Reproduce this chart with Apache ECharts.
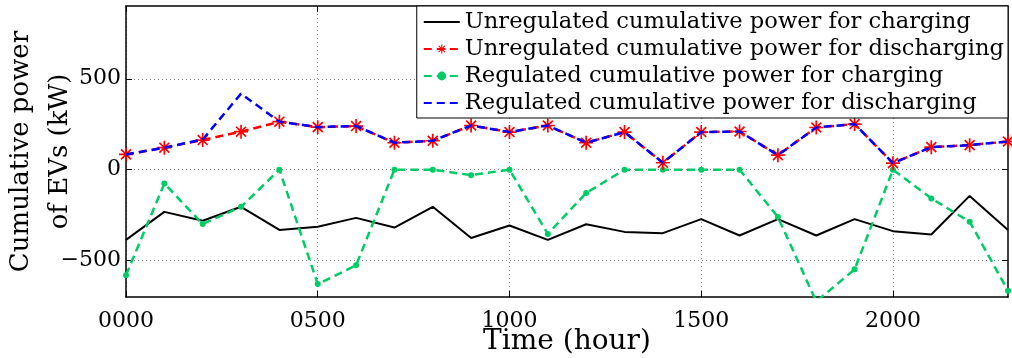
<!DOCTYPE html>
<html><head><meta charset="utf-8">
<script src="https://cdn.jsdelivr.net/npm/echarts@6/dist/echarts.min.js"></script>
<style>html,body{margin:0;padding:0;background:#fff}#c{width:1012px;height:358px}</style>
</head><body><div id="c"></div>
<script>
// Time of day (hours, 0000..2300)
const hours = [0,100,200,300,400,500,600,700,800,900,1000,1100,1200,1300,1400,1500,1600,1700,1800,1900,2000,2100,2200,2300];
// Cumulative power of EVs (kW)
const unregCharge    = [-386,-232,-281,-204,-331,-314,-265,-318,-204,-376,-307,-386,-300,-342,-349,-272,-362,-272,-362,-272,-338,-356,-144,-331];
const unregDischarge = [84,121,163,209,264,234,240,148,159,243,207,243,148,207,38,207,210,80,232,251,36,124,135,155];
const regCharge      = [-580,-76,-299,-204,0,-629,-526,0,0,-30,0,-353,-128,0,0,0,0,-260,-725,-548,0,-158,-286,-666];
const regDischarge   = [84,121,166,418,264,234,240,148,159,243,207,243,148,207,38,207,210,80,232,251,36,124,135,155];
const seriesNames = [
  'Unregulated cumulative power for charging',
  'Unregulated cumulative power for discharging',
  'Regulated cumulative power for charging',
  'Regulated cumulative power for discharging'
];
const xTicks = [0,500,1000,1500,2000];
const yTicks = [-500,0,500];

const FONT = 'DejaVu Serif';
const ASTERISK = 'path://M0 8.8L20 8.8L20 11.2L0 11.2ZM8.8 0L11.2 0L11.2 20L8.8 20ZM2.08 3.78L3.78 2.08L17.92 16.22L16.22 17.92ZM16.22 2.08L17.92 3.78L3.78 17.92L2.08 16.22Z';
const pair = arr => hours.map((h, i) => [h, arr[i]]);
const grid = {color:'#888', type:[1,3], width:1};

const chart = echarts.init(document.getElementById('c'), null, {renderer:'canvas'});
chart.setOption({
  animation: false,
  backgroundColor: '#fff',
  grid: {left:126, right:4, top:6, bottom:61, containLabel:false, outerBoundsMode:'none'},
  xAxis: [{
    type:'value', min:0, max:2300, position:'bottom',
    axisLine:{show:true, onZero:false, lineStyle:{color:'#000', width:1.5}},
    axisTick:{show:true, inside:true, length:6, customValues:xTicks, lineStyle:{color:'#000'}},
    axisLabel:{customValues:xTicks, formatter:v => String(v).padStart(4,'0'), color:'#000', fontFamily:FONT, fontSize:22, margin:13},
    splitLine:{show:true, lineStyle:grid},
    name:'Time (hour)', nameLocation:'middle', nameGap:31, nameMoveOverlap:false,
    nameTextStyle:{color:'#000', fontFamily:FONT, fontSize:28, verticalAlign:'top'}
  },{
    type:'value', min:0, max:2300, position:'top',
    axisLine:{show:true, onZero:false, lineStyle:{color:'#000', width:1.5}},
    axisTick:{show:true, inside:true, length:6, customValues:xTicks, lineStyle:{color:'#000'}},
    axisLabel:{show:false}, splitLine:{show:false}
  }],
  yAxis: [{
    type:'value', min:-700, max:900, position:'left',
    axisLine:{show:true, onZero:false, lineStyle:{color:'#000', width:1.5}},
    axisTick:{show:true, inside:true, length:6, customValues:yTicks, lineStyle:{color:'#000'}},
    axisLabel:{customValues:yTicks, formatter:v => (v < 0 ? '\u2212' + Math.abs(v) : String(v)), color:'#000', fontFamily:FONT, fontSize:22, margin:5},
    splitLine:{show:true, lineStyle:grid},
    name:'Cumulative power\nof EVs (kW)', nameLocation:'middle', nameGap:46, nameRotate:90, nameMoveOverlap:false,
    nameTextStyle:{color:'#000', fontFamily:FONT, fontSize:26, lineHeight:39, align:'center'}
  },{
    type:'value', min:-700, max:900, position:'right',
    axisLine:{show:true, onZero:false, lineStyle:{color:'#000', width:1.5}},
    axisTick:{show:true, inside:true, length:6, customValues:yTicks, lineStyle:{color:'#000'}},
    axisLabel:{show:false}, splitLine:{show:false}
  }],
  legend: {
    orient:'vertical', right:4, top:6,
    backgroundColor:'#fff', borderColor:'#000', borderWidth:1, borderRadius:0,
    padding:[4,4,3,6], itemGap:3, itemWidth:36, itemHeight:11,
    textStyle:{fontFamily:FONT, fontSize:22.6, color:'#000', lineHeight:24},
    data: [
      {name:seriesNames[0], itemStyle:{opacity:0}},
      {name:seriesNames[1]},
      {name:seriesNames[2]},
      {name:seriesNames[3], itemStyle:{opacity:0}}
    ]
  },
  series: [
    {name:seriesNames[0], type:'line', data:pair(unregCharge), symbol:'none',
     lineStyle:{color:'#000', width:2}, itemStyle:{color:'#000'}, z:2},
    {name:seriesNames[1], type:'line', data:pair(unregDischarge), symbol:ASTERISK, symbolSize:14,
     lineStyle:{color:'#ff0000', width:2.5, type:[8,5]}, itemStyle:{color:'#ff0000'}, z:3},
    {name:seriesNames[2], type:'line', data:pair(regCharge), symbol:'circle', symbolSize:6,
     lineStyle:{color:'#00cc66', width:2.5, type:[8,5]}, itemStyle:{color:'#00cc66'}, z:2},
    {name:seriesNames[3], type:'line', data:pair(regDischarge), symbol:'none',
     lineStyle:{color:'#0000ff', width:2.5, type:[8,5]}, itemStyle:{color:'#0000ff'}, z:4}
  ]
});
</script></body></html>
